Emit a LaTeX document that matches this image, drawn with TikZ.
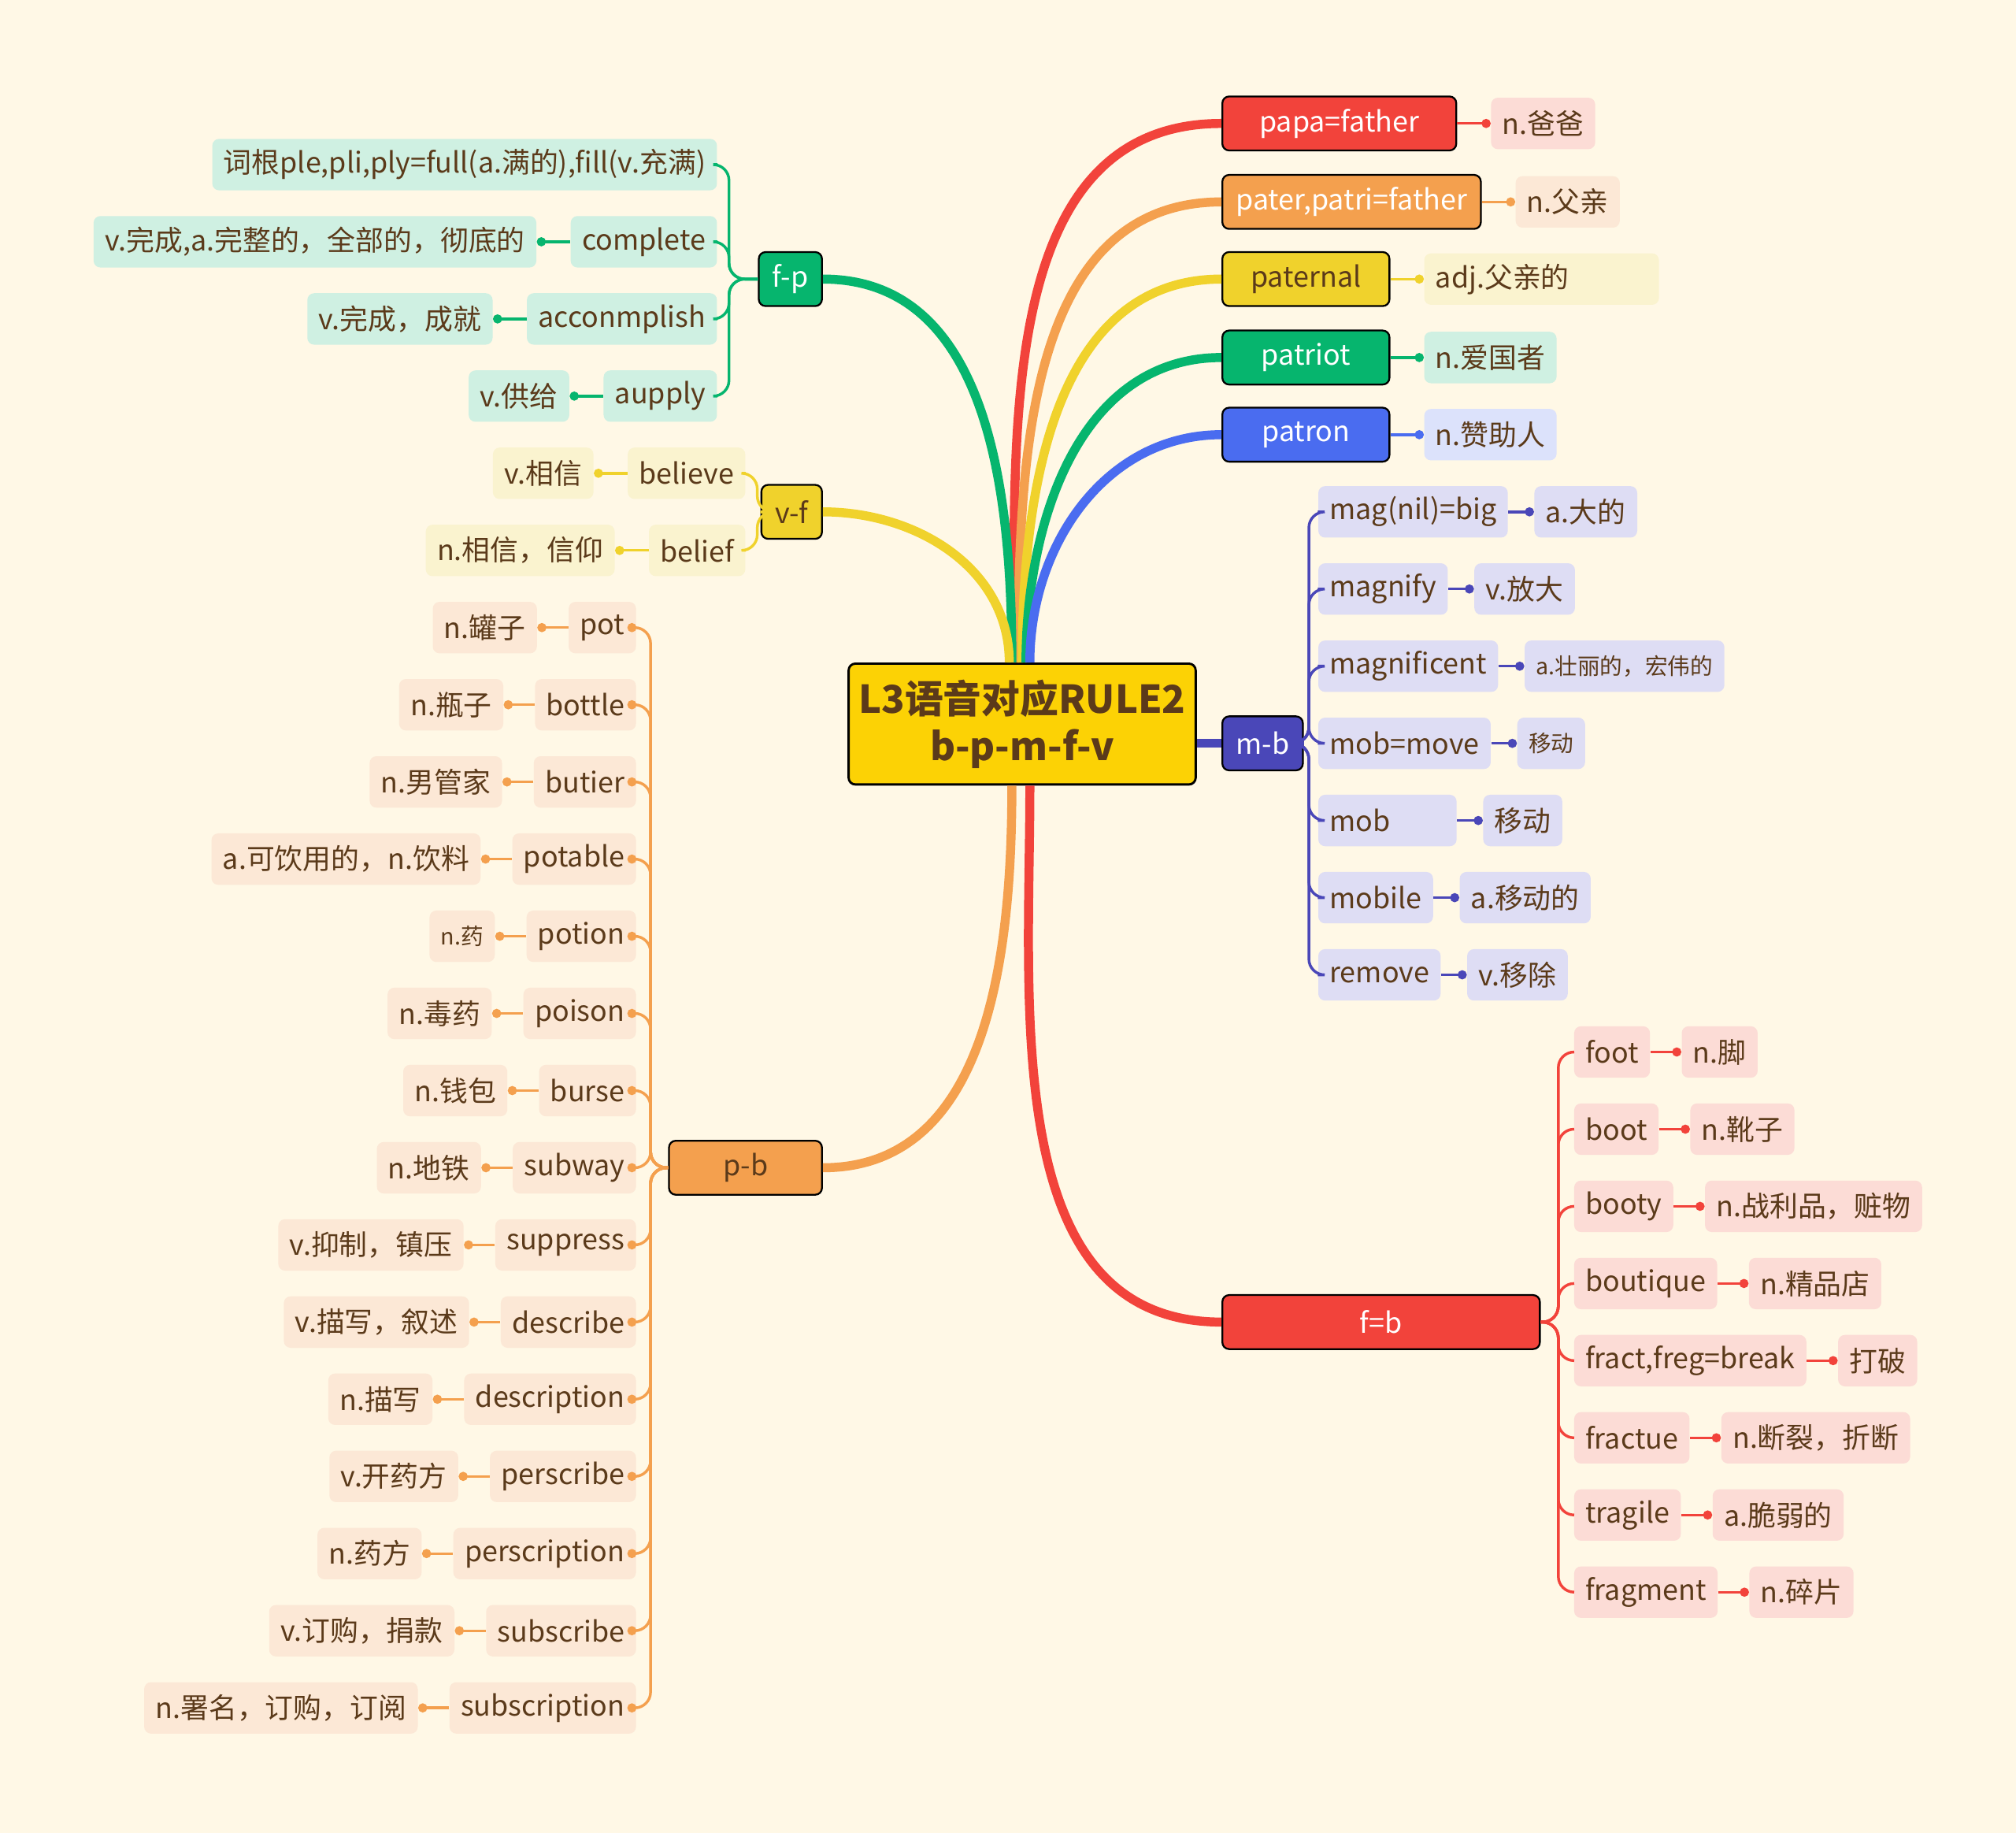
\documentclass[tikz,border=0pt]{standalone}
\usepackage{fontspec}
\setmainfont{Noto Sans CJK SC}
\usetikzlibrary{arrows.meta,positioning,calc}
\definecolor{bgc}{HTML}{FFF8E6}
\definecolor{txt}{HTML}{5B3A1A}
\definecolor{cred}{HTML}{F2433B}
\definecolor{corg}{HTML}{F4A04E}
\definecolor{cyel}{HTML}{F0D22C}
\definecolor{cgrn}{HTML}{06B56E}
\definecolor{cblu}{HTML}{4A6CF0}
\definecolor{cpur}{HTML}{4A47B8}
\definecolor{lred}{HTML}{FCDCD6}
\definecolor{lorg}{HTML}{FCE8D6}
\definecolor{lyel}{HTML}{FAF3CF}
\definecolor{lgrn}{HTML}{CFF0E2}
\definecolor{lblu}{HTML}{DCE2FB}
\definecolor{lpur}{HTML}{DEDDF4}
\tikzset{
  main/.style={draw=black,line width=0.8pt,rounded corners=3pt,fill=#1,text=white,
    minimum height=0.84cm,inner xsep=6pt,font=\fontsize{12.5}{15}\selectfont},
  leaf/.style={fill=#1,rounded corners=3pt,text=txt,minimum height=0.8cm,
    inner xsep=5pt,font=\fontsize{12.5}{15}\selectfont},
  limb/.style={line width=4pt,#1},
  twig/.style={line width=1.2pt,#1,rounded corners=7pt},
  dot/.style={line width=1.2pt,#1,-{Circle[length=4pt]}}
}
\begin{document}
\begin{tikzpicture}[x=0.02cm,y=-0.02cm]
\fill[bgc] (0,0) rectangle (1568,1425);
\useasboundingbox (0,0) rectangle (1568,1425);

% centre
\node[draw=black,line width=1pt,rounded corners=3pt,fill=yellow!70!orange,text=txt,
  minimum width=5.4cm,minimum height=1.88cm,align=center,
  font=\fontsize{17}{21}\selectfont\bfseries] (root) at (795,563) {L3语音对应RULE2\\b-p-m-f-v};

% right main branches
\node[main=cred,anchor=west,minimum width=3.64cm] (papa) at (950,96) {papa=father};
\node[main=corg,anchor=west] (pater) at (950,157) {pater,patri=father};
\node[main=cyel,anchor=west,text=txt,minimum width=2.6cm] (paternal) at (950,217) {paternal};
\node[main=cgrn,anchor=west,minimum width=2.6cm] (patriot) at (950,278) {patriot};
\node[main=cblu,anchor=west,minimum width=2.6cm] (patron) at (950,338) {patron};
\node[main=cpur,anchor=west] (mb) at (950,578) {m-b};
\node[main=cred,anchor=west,minimum width=4.94cm] (fb) at (950,1028) {f=b};
\node[main=cgrn,anchor=east] (fp) at (640,217) {f-p};
\node[main=cyel,anchor=east,text=txt] (vf) at (640,398) {v-f};
\node[main=corg,anchor=east,text=txt,minimum width=2.38cm] (pb) at (640,908) {p-b};

\draw[limb=cred] (root.north) ++(-6,0) to[out=90,in=180] (papa.west);
\draw[limb=corg] (root.north) ++(-3,0) to[out=90,in=180] (pater.west);
\draw[limb=cyel] (root.north) to[out=90,in=180] (paternal.west);
\draw[limb=cgrn] (root.north) ++(3,0) to[out=90,in=180] (patriot.west);
\draw[limb=cblu] (root.north) ++(6,0) to[out=90,in=180] (patron.west);
\draw[limb=cgrn] (root.north) ++(-8,0) to[out=90,in=0] (fp.east);
\draw[limb=cyel] (root.north) ++(-10,0) to[out=90,in=0] (vf.east);
\draw[limb=cpur] (root.east |- mb.west) -- (mb.west);
\draw[limb=corg] (root.south) ++(-8,0) to[out=-90,in=0] (pb.east);
\draw[limb=cred] (root.south) ++(6,0) to[out=-90,in=180] (fb.west);

% right leaves of pa- words
\node[leaf=lred,right=26*0.02cm of papa] (papaL) {n.爸爸};
\node[leaf=lorg,right=26*0.02cm of pater] (paterL) {n.父亲};
\node[leaf=lyel,right=26*0.02cm of paternal,text width=3.3cm,align=left] (paternalL) {adj.父亲的};
\node[leaf=lgrn,right=26*0.02cm of patriot] (patriotL) {n.爱国者};
\node[leaf=lblu,right=26*0.02cm of patron] (patronL) {n.赞助人};
\draw[dot=cred] (papa) -- (papaL);
\draw[dot=corg] (pater) -- (paterL);
\draw[dot=cyel] (paternal) -- (paternalL);
\draw[dot=cgrn] (patriot) -- (patriotL);
\draw[dot=cblu] (patron) -- (patronL);

% m-b
\foreach \w/\l/\i in {mag(nil)=big/a.大的/1,magnify/v.放大/2,
    magnificent/{\fontsize{10}{12}\selectfont a.壮丽的，宏伟的}/3,
    mob=move/{\fontsize{10}{12}\selectfont 移动}/4,
    {\makebox[1.8cm][l]{mob}}/移动/5,mobile/a.移动的/6,remove/v.移除/7}{
  \node[leaf=lpur,anchor=west] (mw\i) at (1025,338+60*\i) {\w};
  \node[leaf=lpur,right=20*0.02cm of mw\i] (ml\i) {\l};
  \draw[dot=cpur] (mw\i) -- (ml\i);
  \draw[twig=cpur] (mb.east) -| ($(mw\i.west)+(-7,0)$) -- (mw\i.west);
}

% f=b
\foreach \w/\l/\i in {foot/n.脚/1,boot/n.靴子/2,booty/{n.战利品，赃物}/3,
    boutique/n.精品店/4,{fract,freg=break}/打破/5,fractue/{n.断裂，折断}/6,
    tragile/a.脆弱的/7,fragment/n.碎片/8}{
  \node[leaf=lred,anchor=west] (fw\i) at (1224,758+60*\i) {\w};
  \node[leaf=lred,right=24*0.02cm of fw\i] (fl\i) {\l};
  \draw[dot=cred] (fw\i) -- (fl\i);
  \draw[twig=cred] (fb.east) -| ($(fw\i.west)+(-12,0)$) -- (fw\i.west);
}

% f-p
\node[leaf=lgrn,anchor=east] (pw0) at (558,128) {词根ple,pli,ply=full(a.满的),fill(v.充满)};
\draw[twig=cgrn] (fp.west) -| ($(pw0.east)+(9,0)$) -- (pw0.east);
\foreach \w/\l/\i in {complete/{v.完成,a.完整的，全部的，彻底的}/1,
    acconmplish/{v.完成，成就}/2,aupply/v.供给/3}{
  \node[leaf=lgrn,anchor=east] (pw\i) at (558,128+60*\i) {\w};
  \node[leaf=lgrn,left=26*0.02cm of pw\i] (pl\i) {\l};
  \draw[dot=cgrn] (pw\i) -- (pl\i);
  \draw[twig=cgrn] (fp.west) -| ($(pw\i.east)+(9,0)$) -- (pw\i.east);
}

% v-f
\foreach \w/\l/\i in {believe/v.相信/0,belief/{n.相信，信仰}/1}{
  \node[leaf=lyel,anchor=east] (vw\i) at (580,368+60*\i) {\w};
  \node[leaf=lyel,left=26*0.02cm of vw\i] (vl\i) {\l};
  \draw[dot=cyel] (vw\i) -- (vl\i);
  \draw[twig=cyel] (vf.west) -| ($(vw\i.east)+(9,0)$) -- (vw\i.east);
}

% p-b
\foreach \w/\l/\i in {pot/n.罐子/0,bottle/n.瓶子/1,butier/n.男管家/2,
    potable/{a.可饮用的，n.饮料}/3,potion/{\fontsize{10}{12}\selectfont n.药}/4,
    poison/n.毒药/5,burse/n.钱包/6,subway/n.地铁/7,suppress/{v.抑制，镇压}/8,
    describe/{v.描写，叙述}/9,description/n.描写/10,perscribe/v.开药方/11,
    perscription/n.药方/12,subscribe/{v.订购，捐款}/13,
    subscription/{n.署名，订购，订阅}/14}{
  \node[leaf=lorg,anchor=east] (bw\i) at (495,488+60*\i) {\w};
  \node[leaf=lorg,left=24*0.02cm of bw\i] (bl\i) {\l};
  \draw[dot=corg] (bw\i) -- (bl\i);
  \draw[twig=corg,-{Circle[length=4pt]}] (pb.west) -| ($(bw\i.east)+(11,0)$) -- (bw\i.east);
}
\end{tikzpicture}
\end{document}
